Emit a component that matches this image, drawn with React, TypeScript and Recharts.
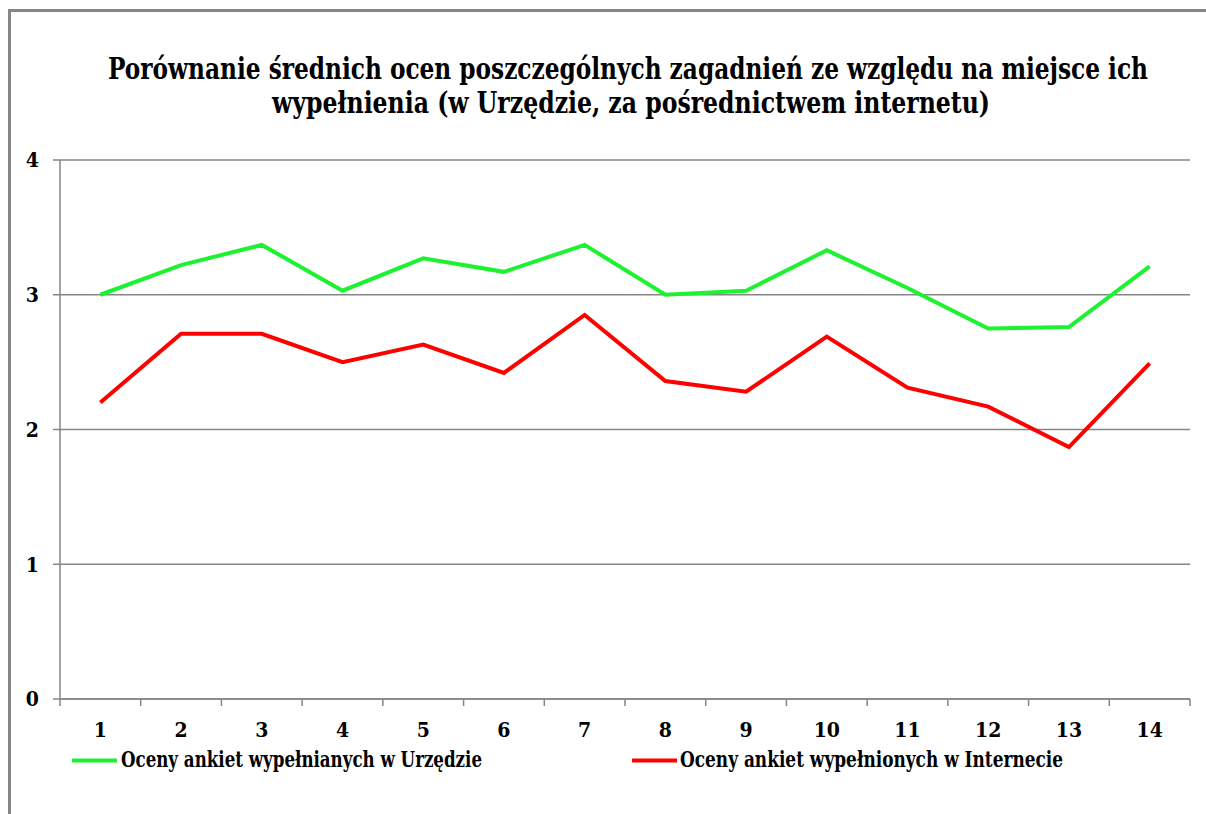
import React from 'react'
import { LineChart, Line, XAxis, YAxis, CartesianGrid, Legend } from 'recharts'

const categories = ['1', '2', '3', '4', '5', '6', '7', '8', '9', '10', '11', '12', '13', '14']
const urzad = [3.0, 3.22, 3.37, 3.03, 3.27, 3.17, 3.37, 3.0, 3.03, 3.33, 3.05, 2.75, 2.76, 3.21]
const internet = [2.2, 2.71, 2.71, 2.5, 2.63, 2.42, 2.85, 2.36, 2.28, 2.69, 2.31, 2.17, 1.87, 2.49]
const yTicks = [0, 1, 2, 3, 4]

const seriesNames = ['Oceny ankiet wypełnianych w Urzędzie', 'Oceny ankiet wypełnionych w Internecie']
const titleLines = [
  'Porównanie średnich ocen poszczególnych zagadnień ze względu na miejsce ich',
  'wypełnienia (w Urzędzie, za pośrednictwem internetu)',
]

const data = categories.map((name, i) => ({ name, urzad: urzad[i], internet: internet[i] }))

const FONT = '"DejaVu Serif Condensed", "DejaVu Serif", serif'
const GRAY = '#868686'
const GREEN = '#1cf22f'
const RED = '#ff0000'
const PLOT_W = 1130
const HALF = PLOT_W / categories.length / 2

function XTick(props: any) {
  const { x, y, payload, index } = props
  const last = index === categories.length - 1
  return (
    <g>
      <line x1={x - HALF} x2={x - HALF} y1={y} y2={y + 7} stroke={GRAY} strokeWidth={1.5} />
      {last && <line x1={x + HALF} x2={x + HALF} y1={y} y2={y + 7} stroke={GRAY} strokeWidth={1.5} />}
      <text x={x} y={y + 38} textAnchor="middle" style={{ fontFamily: FONT }} fontWeight="bold" fontSize={21} fill="#000">
        {payload.value}
      </text>
    </g>
  )
}

function LegendBox() {
  const items = [
    { name: seriesNames[0], color: GREEN, left: 72, textX: 121, len: 361 },
    { name: seriesNames[1], color: RED, left: 632, textX: 680, len: 383 },
  ]
  return (
    <svg width={1206} height={40} style={{ display: 'block' }}>
      {items.map(it => (
        <g key={it.name}>
          <line x1={it.left} x2={it.left + 45} y1={21.5} y2={21.5} stroke={it.color} strokeWidth={4} />
          <text x={it.textX + it.len / 2} y={28} textAnchor="middle" textLength={it.len} lengthAdjust="spacingAndGlyphs" style={{ fontFamily: FONT }} fontWeight="bold" fontSize={22} fill="#000">
            {it.name}
          </text>
        </g>
      ))}
    </svg>
  )
}

export default function App() {
  const titleGeom = [
    { cx: 628, y: 79, len: 1040 },
    { cx: 631, y: 113, len: 718 },
  ]
  return (
    <div style={{ position: 'fixed', left: 0, top: 0, width: 1206, height: 814, background: '#fff', overflow: 'hidden' }}>
      <div style={{ position: 'absolute', left: 8, top: 9, width: 1400, height: 1000, borderLeft: `3px solid ${GRAY}`, borderTop: `3px solid ${GRAY}` }} />
      <svg width={1206} height={140} style={{ position: 'absolute', left: 0, top: 0 }}>
        {titleLines.map((t, i) => (
          <g key={t} transform={`translate(${titleGeom[i].cx}, ${titleGeom[i].y}) scale(1, 1.12)`}>
            <text x={0} y={0} textAnchor="middle" textLength={titleGeom[i].len} lengthAdjust="spacingAndGlyphs" style={{ fontFamily: FONT }} fontWeight="bold" fontSize={26} fill="#000">
              {t}
            </text>
          </g>
        ))}
      </svg>
      <div style={{ position: 'absolute', left: 0, top: 0 }}>
        <LineChart width={1206} height={814} data={data} margin={{ top: 160, right: 16, bottom: 35, left: 10 }}>
          <CartesianGrid vertical={false} stroke={GRAY} strokeWidth={1.5} />
          <XAxis
            dataKey="name"
            padding={{ left: HALF, right: HALF }}
            axisLine={{ stroke: GRAY, strokeWidth: 1.5 }}
            tickLine={false}
            tickSize={0}
            tickMargin={0}
            height={40}
            interval={0}
            tick={<XTick />}
          />
          <YAxis
            domain={[0, 4]}
            ticks={yTicks}
            width={50}
            axisLine={{ stroke: GRAY, strokeWidth: 1.5 }}
            tickLine={{ stroke: GRAY, strokeWidth: 1.5 }}
            tickSize={7}
            tickMargin={14}
            tick={{ style: { fontFamily: FONT }, fontWeight: 'bold', fontSize: 21, fill: '#000' }}
          />
          <Legend verticalAlign="bottom" height={40} wrapperStyle={{ left: 0, width: 1206 }} content={() => <LegendBox />} />
          <Line dataKey="urzad" name={seriesNames[0]} stroke={GREEN} strokeWidth={4} dot={false} isAnimationActive={false} strokeLinejoin="miter" />
          <Line dataKey="internet" name={seriesNames[1]} stroke={RED} strokeWidth={4} dot={false} isAnimationActive={false} strokeLinejoin="miter" />
        </LineChart>
      </div>
    </div>
  )
}
